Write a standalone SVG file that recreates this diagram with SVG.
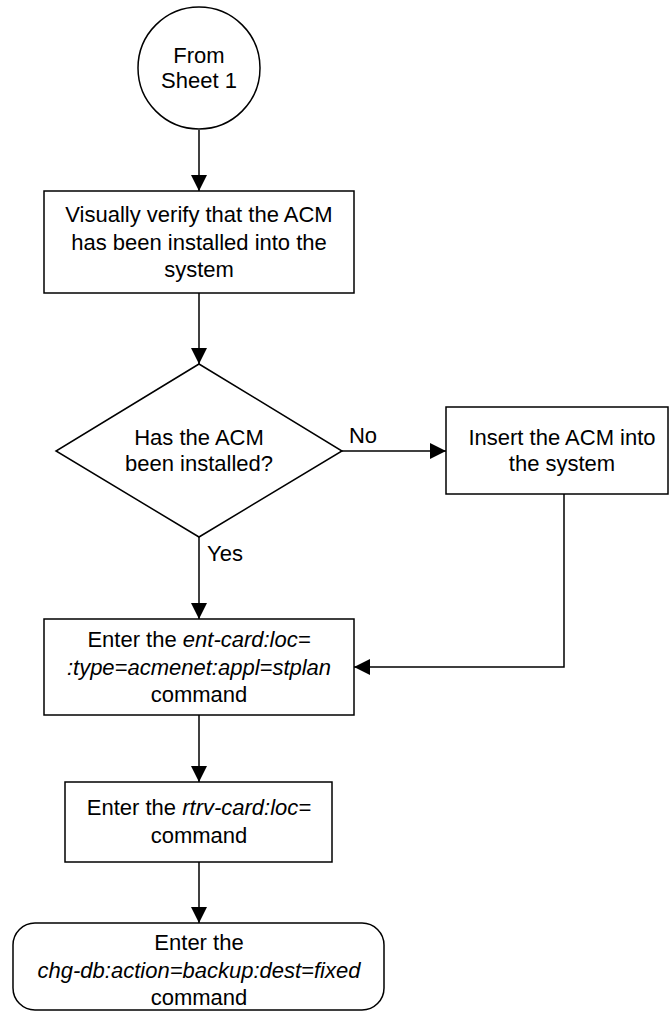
<svg xmlns="http://www.w3.org/2000/svg" width="670" height="1012" viewBox="0 0 670 1012">
<style>
.shape{fill:#fff;stroke:#000;stroke-width:1.5}
.t{font-family:"Liberation Sans",Arial,sans-serif;font-size:22px;fill:#000;text-anchor:middle}
.i{font-style:italic}
.line{fill:none;stroke:#000;stroke-width:1.5}
</style>
<defs>
<marker id="arr" markerUnits="userSpaceOnUse" markerWidth="16" markerHeight="16" viewBox="0 0 16 16" refX="16" refY="8" orient="auto">
<path d="M0,0 L16,8 L0,16 Z" fill="#000"/>
</marker>
</defs>
<g id="connectors">
<line class="line" x1="199" y1="130" x2="199" y2="191" marker-end="url(#arr)"/>
<line class="line" x1="199" y1="293" x2="199" y2="364" marker-end="url(#arr)"/>
<line class="line" x1="199" y1="537" x2="199" y2="619" marker-end="url(#arr)"/>
<line class="line" x1="342" y1="451" x2="446" y2="451" marker-end="url(#arr)"/>
<polyline class="line" points="564,494 564,667 354,667" marker-end="url(#arr)"/>
<line class="line" x1="199" y1="715" x2="199" y2="782" marker-end="url(#arr)"/>
<line class="line" x1="199" y1="862" x2="199" y2="923" marker-end="url(#arr)"/>
<text class="t" x="363" y="443">No</text>
<text class="t" x="225" y="561">Yes</text>
</g>
<g id="start">
<circle class="shape" cx="199" cy="68" r="61"/>
<text class="t" x="199" y="63">From</text>
<text class="t" x="199" y="88">Sheet 1</text>
</g>
<g id="verify">
<rect class="shape" x="44" y="191" width="310" height="102"/>
<text class="t" x="199" y="222">Visually verify that the ACM</text>
<text class="t" x="199" y="250">has been installed into the</text>
<text class="t" x="199" y="277">system</text>
</g>
<g id="decision">
<polygon class="shape" points="199,364 342,451 199,537 56,451"/>
<text class="t" x="199" y="445">Has the ACM</text>
<text class="t" x="199" y="471">been installed?</text>
</g>
<g id="insert">
<rect class="shape" x="446" y="407" width="222" height="87"/>
<text class="t" x="562" y="445">Insert the ACM into</text>
<text class="t" x="562" y="471">the system</text>
</g>
<g id="entcard">
<rect class="shape" x="44" y="619" width="310" height="96"/>
<text class="t" x="199" y="647">Enter the <tspan class="i">ent-card:loc=</tspan></text>
<text class="t i" x="199" y="675">:type=acmenet:appl=stplan</text>
<text class="t" x="199" y="702">command</text>
</g>
<g id="rtrvcard">
<rect class="shape" x="65" y="782" width="267" height="80"/>
<text class="t" x="199" y="815">Enter the <tspan class="i">rtrv-card:loc=</tspan></text>
<text class="t" x="199" y="843">command</text>
</g>
<g id="chgdb">
<rect class="shape" x="13" y="923" width="371" height="87" rx="22" ry="22"/>
<text class="t" x="199" y="950">Enter the</text>
<text class="t i" x="199" y="978">chg-db:action=backup:dest=fixed</text>
<text class="t" x="199" y="1005">command</text>
</g>
</svg>
